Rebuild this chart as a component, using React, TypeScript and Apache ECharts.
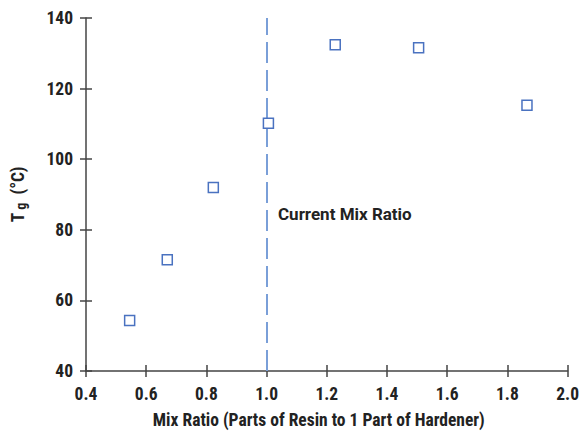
import React, { useEffect, useRef } from "react";
import * as echarts from "echarts";

const mixRatio = [0.545, 0.67, 0.823, 1.006, 1.228, 1.505, 1.865];
const tgValues = [54.3, 71.5, 92.0, 110.2, 132.4, 131.6, 115.3];
const currentMixRatio = 1.0;
const annotationText = "Current Mix Ratio";
const xAxisName = "Mix Ratio (Parts of Resin to 1 Part of Hardener)";
const xRange = { min: 0.4, max: 2.0, interval: 0.2 };
const yRange = { min: 40, max: 140, interval: 20 };

const FONT = "'Liberation Sans Narrow', 'Roboto Condensed', 'Arial Narrow', Roboto, sans-serif";
const TXT = "#222222";
const AX = "#444444";
const FS = 17.5;

export default function App() {
  const ref = useRef<HTMLDivElement>(null);
  useEffect(() => {
    if (!ref.current) return;
    const chart = echarts.init(ref.current, undefined, { renderer: "svg" });
    const baseX = {
      type: "value" as const,
      min: xRange.min,
      max: xRange.max,
      interval: xRange.interval,
      splitLine: { show: false },
    };
    const baseY = {
      type: "value" as const,
      min: yRange.min,
      max: yRange.max,
      interval: yRange.interval,
      splitLine: { show: false },
    };
    chart.setOption({
      animation: false,
      backgroundColor: "#ffffff",
      grid: { left: 86, right: 11, top: 18, bottom: 60, containLabel: false },
      xAxis: [
        {
          ...baseX,
          position: "bottom",
          axisLine: { show: true, lineStyle: { color: AX, width: 1.5 } },
          axisTick: { show: true, inside: false, length: 6, lineStyle: { color: AX, width: 1.5 } },
          axisLabel: {
            show: true,
            margin: 14,
            color: TXT,
            fontFamily: FONT,
            fontWeight: "bold",
            fontSize: FS,
            formatter: (v: number) => v.toFixed(1),
          },
          name: xAxisName,
          nameLocation: "middle",
          nameGap: 40,
          nameTextStyle: {
            color: TXT,
            fontFamily: FONT,
            fontWeight: "bold",
            fontSize: FS,
            padding: [0, 16, 0, 0],
          },
        },
        {
          ...baseX,
          position: "bottom",
          axisLine: { show: false },
          axisTick: { show: true, inside: true, length: 6, lineStyle: { color: AX, width: 1.5 } },
          axisLabel: { show: false },
        },
      ],
      yAxis: [
        {
          ...baseY,
          position: "left",
          axisLine: { show: true, lineStyle: { color: AX, width: 1.5 } },
          axisTick: { show: true, inside: false, length: 6, lineStyle: { color: AX, width: 1.5 } },
          axisLabel: {
            show: true,
            margin: 13,
            color: TXT,
            fontFamily: FONT,
            fontWeight: "bold",
            fontSize: FS,
          },
          name: "{a|T}{b| g}{a|  (°C)}",
          nameLocation: "middle",
          nameGap: 58,
          nameRotate: 90,
          nameTextStyle: {
            color: TXT,
            fontFamily: FONT,
            fontWeight: "bold",
            fontSize: FS,
            rich: {
              a: { color: TXT, fontFamily: FONT, fontWeight: "bold", fontSize: FS },
              b: {
                color: TXT,
                fontFamily: FONT,
                fontWeight: "bold",
                fontSize: 14,
                verticalAlign: "bottom",
                padding: [7, 0, 0, 0],
              },
            },
          },
        },
        {
          ...baseY,
          position: "left",
          axisLine: { show: false },
          axisTick: { show: true, inside: true, length: 6, lineStyle: { color: AX, width: 1.5 } },
          axisLabel: { show: false },
        },
      ],
      series: [
        {
          type: "scatter",
          xAxisIndex: 0,
          yAxisIndex: 0,
          data: mixRatio.map((x, i) => [x, tgValues[i]]),
          symbol: "rect",
          symbolSize: 10,
          itemStyle: { color: "#ffffff", borderColor: "#4a72c0", borderWidth: 1.5, opacity: 1 },
          z: 5,
          markLine: {
            silent: true,
            symbol: "none",
            label: { show: false },
            lineStyle: { color: "#7a9fd8", width: 2, type: [21, 7] },
            data: [{ xAxis: currentMixRatio }],
          },
        },
      ],
      graphic: [
        {
          type: "text",
          left: 278,
          top: 205,
          style: {
            text: annotationText,
            fill: TXT,
            font: `bold 17px Roboto, sans-serif`,
          },
        },
      ],
    });
    return () => chart.dispose();
  }, []);
  return (
    <div
      ref={ref}
      style={{ position: "absolute", left: 0, top: 0, width: 582, height: 434 }}
    />
  );
}
